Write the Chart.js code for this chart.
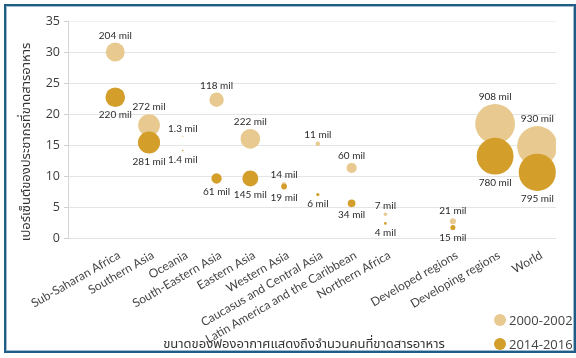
<!DOCTYPE html>
<html>
<head>
<meta charset="utf-8">
<script src="https://cdn.jsdelivr.net/npm/chart.js@4.4.1/dist/chart.umd.min.js"></script>
<style>
body { margin: 0; background: #fff; }
#wrap { position: relative; width: 576px; height: 358px; overflow: hidden; background: #fff; }
#frame { position: absolute; left: 4px; top: 4px; width: 572px; height: 349px; box-sizing: border-box;
  border: 2px solid #1f5c86; box-shadow: inset 0 0 0 1px #9dbad0; }
canvas { position: absolute; left: 0; top: 0; }
.ytitle { position: absolute; left: 26px; top: 142px; transform: translate(-50%, -50%) rotate(-90deg);
  white-space: nowrap; font: 13px "Noto Sans Thai", "Noto Sans", sans-serif; color: #333; }
.xtitle { position: absolute; left: 304px; top: 344px; transform: translate(-50%, -50%);
  white-space: nowrap; font: 13px "Noto Sans Thai", "Noto Sans", sans-serif; color: #333; }
.leg { position: absolute; left: 494px; font: 13px "Open Sans", sans-serif; color: #444; white-space: nowrap; }
.leg span { display: inline-block; width: 12px; height: 12px; border-radius: 50%; vertical-align: -1px; margin-right: 3px; }
</style>
</head>
<body>
<div id="wrap">
  <canvas id="myChart" width="576" height="358"></canvas>
  <div id="frame"></div>
  <div class="ytitle">เปอร์เซ็นต์ของประชากรที่ขาดสารอาหาร</div>
  <div class="xtitle">ขนาดของฟองอากาศแสดงถึงจำนวนคนที่ขาดสารอาหาร</div>
  <div class="leg" style="top:311px"><span style="background:#e8ca90"></span>2000-2002</div>
  <div class="leg" style="top:335px"><span style="background:#d39e2a"></span>2014-2016</div>
</div>
<script>
// regions on the x axis
var regions = ["Sub-Saharan Africa", "Southern Asia", "Oceania", "South-Eastern Asia", "Eastern Asia",
  "Western Asia", "Caucasus and Central Asia", "Latin America and the Caribbean", "Northern Africa",
  "Developed regions", "Developing regions", "World"];
var slots = [0, 1, 2, 3, 4, 5, 6, 7, 8, 10, 11.25, 12.5];

// percent undernourished
var pct2000 = [30, 18.2, 16.4, 22.3, 16.0, 8.6, 15.2, 11.3, 3.85, 2.7, 18.4, 14.8];
var pct2014 = [22.7, 15.4, 14.1, 9.6, 9.6, 8.3, 7.0, 5.6, 2.35, 1.7, 13.2, 10.6];

// millions of people (bubble size)
var mil2000 = [204, 272, 1.3, 118, 222, 14, 11, 60, 7, 21, 908, 930];
var mil2014 = [220, 281, 1.4, 61, 145, 19, 6, 34, 4, 15, 780, 795];

var yTicks = [0, 5, 10, 15, 20, 25, 30, 35];

function toPoints(pct, mil) {
  return pct.map(function(v, i) {
    return { x: slots[i], y: v, r: 0.66 * Math.sqrt(mil[i]) };
  });
}

var bubbleLabels = {
  id: 'bubbleLabels',
  afterDatasetsDraw: function(chart) {
    var ctx = chart.ctx;
    ctx.save();
    ctx.font = '10px Lato';
    ctx.fillStyle = '#2b2b2b';
    ctx.textAlign = 'center';
    chart.data.datasets.forEach(function(ds, i) {
      chart.getDatasetMeta(i).data.forEach(function(pt, j) {
        var r = pt.options.radius;
        var txt = ds.mil[j] + ' mil';
        if (i === 0) {
          ctx.textBaseline = 'bottom';
          ctx.fillText(txt, pt.x, pt.y - r - 2);
        } else {
          ctx.textBaseline = 'top';
          ctx.fillText(txt, pt.x, pt.y + r + 3);
        }
      });
    });
    ctx.restore();
  }
};

new Chart(document.getElementById('myChart'), {
  type: 'bubble',
  data: {
    datasets: [{
      label: '2000-2002',
      data: toPoints(pct2000, mil2000),
      mil: mil2000,
      backgroundColor: '#e8ca90',
      borderWidth: 0,
      order: 1
    }, {
      label: '2014-2016',
      data: toPoints(pct2014, mil2014),
      mil: mil2014,
      backgroundColor: '#d39e2a',
      borderWidth: 0,
      order: 0
    }]
  },
  options: {
    responsive: false,
    animation: false,
    layout: { padding: { top: 21, right: 6, left: 0, bottom: 0 } },
    plugins: { legend: { display: false }, tooltip: { enabled: false } },
    scales: {
      x: {
        type: 'linear',
        min: -1.4,
        max: 13.05,
        afterBuildTicks: function(axis) {
          axis.ticks = slots.map(function(v) { return { value: v }; });
        },
        afterFit: function(axis) { axis.height = 120; },
        ticks: {
          autoSkip: false,
          maxRotation: 30,
          minRotation: 30,
          padding: 2,
          labelOffset: 4,
          color: '#444',
          font: { family: 'Lato', size: 12 },
          callback: function(v, i) { return regions[i]; }
        },
        grid: { display: false },
        border: { display: false }
      },
      y: {
        min: 0,
        max: 35,
        afterBuildTicks: function(axis) {
          axis.ticks = yTicks.map(function(v) { return { value: v }; });
        },
        afterFit: function(axis) { axis.width = 68; },
        ticks: { color: '#3a3a3a', font: { family: 'Open Sans', size: 12.5 }, padding: 4 },
        grid: {
          color: function(c) { return c.tick && c.tick.value === 35 ? '#f0f0f0' : '#e4e4e4'; },
          tickLength: 4,
          tickColor: '#cfcfcf'
        },
        border: { color: '#d6d6d6' }
      }
    }
  },
  plugins: [bubbleLabels]
});
</script>
</body>
</html>
